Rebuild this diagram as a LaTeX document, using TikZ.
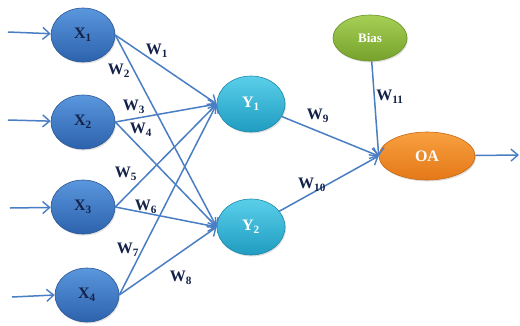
\documentclass[tikz,border=0pt]{standalone}
\usepackage{fontspec}
\setmainfont{Liberation Serif}
\usetikzlibrary{arrows.meta,shadows,shapes.geometric}
\definecolor{wire}{HTML}{4A7EC4}
\definecolor{ink}{HTML}{14224A}
\definecolor{cXtop}{HTML}{5A97DD}
\definecolor{cXbot}{HTML}{2C62AC}
\definecolor{cXline}{HTML}{2A5694}
\definecolor{cYtop}{HTML}{5ACFEA}
\definecolor{cYbot}{HTML}{1F9CC0}
\definecolor{cYline}{HTML}{1D88A8}
\definecolor{cBtop}{HTML}{A6CF55}
\definecolor{cBbot}{HTML}{76A22C}
\definecolor{cBline}{HTML}{6A9127}
\definecolor{cOtop}{HTML}{F8A040}
\definecolor{cObot}{HTML}{E47818}
\definecolor{cOline}{HTML}{C9680F}
\begin{document}
\begin{tikzpicture}[x=1pt,y=-1pt,
  neuron/.style={ellipse, inner sep=0pt, font=\bfseries\fontsize{16}{16}\selectfont, line width=0.6pt,
    drop shadow={opacity=0.25,shadow xshift=1pt,shadow yshift=-1.5pt}},
  xnode/.style={neuron, minimum width=64pt, minimum height=54pt, draw=cXline,
    top color=cXtop, bottom color=cXbot, text=ink},
  ynode/.style={neuron, minimum width=68pt, minimum height=56pt, draw=cYline,
    top color=cYtop, bottom color=cYbot, text=white},
  bnode/.style={neuron, minimum width=74pt, minimum height=46pt, draw=cBline,
    top color=cBtop, bottom color=cBbot, text=white, font=\bfseries\fontsize{13}{13}\selectfont},
  onode/.style={neuron, minimum width=96pt, minimum height=48pt, draw=cOline,
    top color=cOtop, bottom color=cObot, text=white},
  link/.style={draw=wire, line width=1.5pt, -{Straight Barb[length=7pt,width=12pt,line width=1.4pt]}},
  wlab/.style={font=\bfseries\fontsize{16}{16}\selectfont, text=ink, inner sep=0pt},
]
\useasboundingbox (0,0) rectangle (520,325);
\fill[white] (0,0) rectangle (520,325);

% input layer
\node[xnode] (x1) at (83,35)  {X\textsubscript{1}};
\node[xnode] (x2) at (83,122) {X\textsubscript{2}};
\node[xnode] (x3) at (83,207) {X\textsubscript{3}};
\node[xnode] (x4) at (87,295) {X\textsubscript{4}};

% hidden layer
\node[ynode] (y1) at (251,104) {Y\textsubscript{1}};
\node[ynode] (y2) at (251,227) {Y\textsubscript{2}};

% bias and output
\node[bnode] (bias) at (370,38) {Bias};
\node[onode] (oa) at (427,156) {OA};

% free ends of the input and output wires
\coordinate (i1) at (8,32);
\coordinate (i2) at (8,120);
\coordinate (i3) at (10,208);
\coordinate (i4) at (12,297);
\coordinate (out) at (519,155);

\draw[link] (i1) -- (x1);
\draw[link] (i2) -- (x2);
\draw[link] (i3) -- (x3);
\draw[link] (i4) -- (x4.west);

% input to hidden
\draw[link] (x1.east) -- (y1.west);
\draw[link] (x1.east) -- (y2.west);
\draw[link] (x2.east) -- (y1.west);
\draw[link] (x2.east) -- (y2.west);
\draw[link] (x3.east) -- (y1.west);
\draw[link] (x3.east) -- (y2.west);
\draw[link] (x4.east) -- (y1.west);
\draw[link] (x4.east) -- (y2.west);

% hidden to output
\draw[link] (y1) -- (oa.west);
\draw[link] (y2) -- (oa.west);
\draw[link] (bias) -- (oa.west);
\draw[link] (oa) -- (out);

% weights
\node[wlab] (w1)  at (157,51)  {W\textsubscript{1}};
\node[wlab] (w2)  at (119,71)  {W\textsubscript{2}};
\node[wlab] (w3)  at (134,107) {W\textsubscript{3}};
\node[wlab] (w4)  at (141,130) {W\textsubscript{4}};
\node[wlab] (w5)  at (126,174) {W\textsubscript{5}};
\node[wlab] (w6)  at (146,207) {W\textsubscript{6}};
\node[wlab] (w7)  at (128,250) {W\textsubscript{7}};
\node[wlab] (w8)  at (181,278) {W\textsubscript{8}};
\node[wlab] (w9)  at (318,116) {W\textsubscript{9}};
\node[wlab] (w10) at (312,185) {W\textsubscript{10}};
\node[wlab] (w11) at (390,97)  {W\textsubscript{11}};
\end{tikzpicture}
\end{document}
